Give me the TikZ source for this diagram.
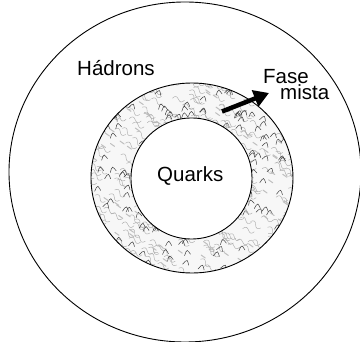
\documentclass[tikz,border=0pt]{standalone}
\usepackage{fontspec}
\setmainfont{Liberation Sans}
\usetikzlibrary{arrows.meta}
\begin{document}
\begin{tikzpicture}[x=1pt,y=-1pt,
  lbl/.style={inner sep=0pt,anchor=base west,font=\fontsize{20.5}{16.7}\selectfont},
  ring/.style={draw=black,line width=0.9pt},
  squig/.style={draw=gray!65,line width=0.45pt,line cap=round},
  squigd/.style={draw=gray!50!black,line width=0.5pt,line cap=round}]
\useasboundingbox[fill=white] (0,0) rectangle (360,342);
% textured mixed phase ring
\begin{scope}[even odd rule]
  \clip (192,178) ellipse [x radius=101,y radius=95] (191.5,178.5) circle [radius=60.5];
  \fill[gray!6] (85,75) rectangle (300,280);
  \pgfmathsetseed{11}
  \foreach \i in {1,...,380} {
    \pgfmathsetmacro\xx{82+rnd*216}
    \pgfmathsetmacro\yy{76+rnd*204}
    \pgfmathsetmacro\rr{-40+rnd*30}
    \draw[squig,shift={(\xx,\yy)},rotate=\rr] (0,0) .. controls (2,-3) and (4,-3) .. (6,0) .. controls (8,3) and (10,3) .. (12,0);
  }
  \foreach \i in {1,...,200} {
    \pgfmathsetmacro\xx{82+rnd*216}
    \pgfmathsetmacro\yy{76+rnd*204}
    \pgfmathsetmacro\rr{-30+rnd*40}
    \draw[squigd,shift={(\xx,\yy)},rotate=\rr] (0,2) .. controls (1,-1) and (2,-3) .. (3,-3) .. controls (4,-3) and (5,0) .. (6,1);
  }
  \foreach \i in {1,...,160} {
    \pgfmathsetmacro\xx{82+rnd*216}
    \pgfmathsetmacro\yy{76+rnd*204}
    \draw[draw=gray!50,line width=1pt,line cap=round,shift={(\xx,\yy)},rotate=-35] (0,0) -- (5,0);
  }
\end{scope}
% circles
\draw[ring] (185,172) ellipse [x radius=176,y radius=170];
\draw[ring] (192,178) ellipse [x radius=101,y radius=95];
\draw[ring,fill=white] (191.5,178.5) circle [radius=60.5];
% labels
\node[lbl] (hadrons) at (77,76) {Hádrons};
\node[lbl] (quarks) at (157,181.7) {Quarks};
\node[lbl,align=left] (fasemista) at (263,100) {Fase\\\hspace*{17pt}mista};
% arrow
\coordinate (atail) at (222,111.5);
\coordinate (ahead) at (269,93);
\draw[line width=4.5pt,-{Triangle[length=15pt,width=17pt]}] (atail) -- (ahead);
\end{tikzpicture}
\end{document}
